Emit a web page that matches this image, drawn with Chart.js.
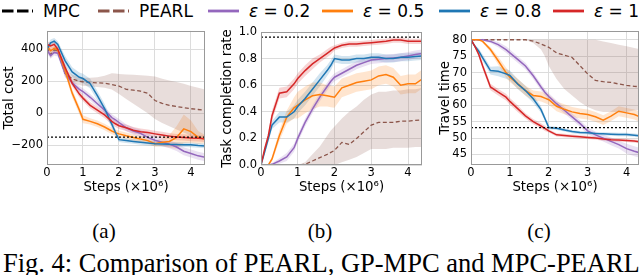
<!DOCTYPE html>
<html>
<head>
<meta charset="utf-8">
<script src="https://cdn.jsdelivr.net/npm/chart.js@4.4.1/dist/chart.umd.min.js"></script>
<style>
body { margin: 0; background: #fff; }
#page { position: relative; width: 640px; height: 275px; overflow: hidden; font-family: "DejaVu Sans", sans-serif; }
.panel { position: absolute; top: 20px; }
.key { position: absolute; top: 1px; height: 19px; display: flex; align-items: center; font-size: 17px; white-space: nowrap; color: #000; }
.key svg { margin-right: 10px; }
.sub { position: absolute; top: 221px; font: 21px/21px "Liberation Serif", serif; transform: translateX(-50%); }
.cap { position: absolute; left: 3px; top: 250px; font: 26.5px/26.5px "Liberation Serif", serif; white-space: nowrap; }
</style>
</head>
<body>
<div id="page">
  <div class="key" style="left:2px"><svg width="31" height="6"><line x1="0" y1="3" x2="31" y2="3" stroke="#000" stroke-width="2.8" stroke-dasharray="11.5,3.5"/></svg>MPC</div>
  <div class="key" style="left:98px"><svg width="31" height="6"><line x1="0" y1="3" x2="31" y2="3" stroke="#8c564b" stroke-width="2.8" stroke-dasharray="11.5,3.5"/></svg>PEARL</div>
  <div class="key" style="left:208px"><svg width="31" height="6"><line x1="0" y1="3" x2="31" y2="3" stroke="#9467bd" stroke-width="2.8"/></svg><i>ε</i>&nbsp;=&nbsp;0.2</div>
  <div class="key" style="left:322px"><svg width="31" height="6"><line x1="0" y1="3" x2="31" y2="3" stroke="#ff7f0e" stroke-width="2.8"/></svg><i>ε</i>&nbsp;=&nbsp;0.5</div>
  <div class="key" style="left:439px"><svg width="31" height="6"><line x1="0" y1="3" x2="31" y2="3" stroke="#1f77b4" stroke-width="2.8"/></svg><i>ε</i>&nbsp;=&nbsp;0.8</div>
  <div class="key" style="left:553px"><svg width="31" height="6"><line x1="0" y1="3" x2="31" y2="3" stroke="#d62728" stroke-width="2.8"/></svg><i>ε</i>&nbsp;=&nbsp;1</div>

  <canvas id="costChart" class="panel" style="left:0px" width="210" height="180"></canvas>
  <canvas id="rateChart" class="panel" style="left:213px" width="212" height="180"></canvas>
  <canvas id="timeChart" class="panel" style="left:428px" width="212" height="180"></canvas>

  <div class="sub" style="left:104px">(a)</div>
  <div class="sub" style="left:320px">(b)</div>
  <div class="sub" style="left:539px">(c)</div>
  <div class="cap">Fig. 4: Comparison of PEARL, GP-MPC and MPC-PEARL</div>
</div>

<script>
// x positions (millions of steps) shared by all curves
const steps = [0, 0.1, 0.2, 0.3, 0.5, 0.7, 0.9, 1.0, 1.2, 1.4, 1.6, 1.8, 1.9, 2.0, 2.2, 2.4, 2.6, 2.8, 3.0, 3.2, 3.4, 3.6, 3.8, 4.0, 4.2, 4.4];
const mpcSteps = [0, 4.4];
const stepTicks = [0, 1, 2, 3, 4];

// (a) total cost
const costMPC = [-148, -148];
const costPEARL = [410, 365, 395, 390, 250, 215, 200, 197, 193, 190, 188, 180, 175, 170, 150, 145, 138, 125, 80, 62, 50, 43, 35, 29, 24, 20];
const costPEARLHi = [425, 385, 415, 410, 275, 240, 225, 222, 222, 225, 235, 250, 248, 245, 242, 240, 238, 235, 230, 215, 205, 195, 185, 170, 160, 148];
const costPEARLLo = [395, 345, 375, 370, 225, 190, 175, 172, 168, 165, 160, 148, 135, 120, 90, 60, 30, 0, -35, -60, -80, -100, -120, -140, -150, -157];
const costE02 = [395, 360, 380, 375, 250, 190, 150, 136, 100, 60, 20, -26, -40, -57, -90, -110, -125, -150, -168, -180, -192, -210, -236, -250, -265, -274];
const costE05 = [420, 390, 405, 395, 268, 126, 20, -37, -50, -65, -85, -110, -120, -128, -140, -150, -160, -170, -189, -180, -175, -150, -97, -114, -150, -162];
const costE08 = [400, 440, 450, 430, 329, 258, 225, 217, 185, 110, 30, -67, -118, -164, -170, -175, -180, -185, -189, -191, -193, -194, -195, -196, -200, -203];
const costE1 = [430, 420, 430, 400, 288, 187, 120, 95, 50, 20, -10, -50, -65, -77, -90, -105, -114, -120, -128, -135, -142, -148, -150, -154, -156, -158];
const costSpreadE02 = [20, 20, 20, 20, 20, 20, 20, 20, 20, 20, 20, 20, 20, 22, 22, 22, 22, 25, 25, 25, 25, 25, 25, 25, 25, 25];
const costSpreadE05 = [20, 20, 20, 20, 25, 25, 25, 25, 20, 20, 20, 20, 20, 20, 20, 20, 20, 20, 20, 25, 40, 70, 90, 70, 40, 25];
const costSpreadE08 = [20, 20, 20, 20, 30, 30, 30, 30, 30, 30, 30, 25, 20, 15, 15, 15, 15, 15, 15, 15, 15, 15, 15, 15, 15, 15];
const costSpreadE1 = [20, 20, 20, 20, 20, 20, 20, 20, 20, 20, 20, 20, 20, 20, 20, 20, 20, 20, 20, 20, 20, 20, 20, 20, 20, 20];
const costTicks = [-200, 0, 200, 400];

// (b) task completion rate
const rateMPC = [0.962, 0.962];
const ratePEARL = [0, 0, 0, 0, 0, 0, 0, 0, 0.005, 0.03, 0.055, 0.08, 0.095, 0.11, 0.17, 0.155, 0.2, 0.25, 0.3, 0.32, 0.32, 0.32, 0.33, 0.33, 0.335, 0.34];
const ratePEARLHi = [0, 0, 0, 0, 0, 0, 0, 0, 0.02, 0.08, 0.14, 0.22, 0.26, 0.29, 0.35, 0.4, 0.44, 0.49, 0.53, 0.55, 0.55, 0.56, 0.56, 0.57, 0.57, 0.58];
const ratePEARLLo = [0, 0, 0, 0, 0, 0, 0, 0, 0, 0, 0, 0, 0, 0, 0.02, 0.04, 0.06, 0.09, 0.12, 0.12, 0.12, 0.13, 0.13, 0.13, 0.135, 0.136];
const rateE02 = [0, 0, 0, 0.005, 0.03, 0.06, 0.13, 0.2, 0.32, 0.42, 0.51, 0.59, 0.63, 0.66, 0.69, 0.72, 0.75, 0.77, 0.79, 0.795, 0.8, 0.805, 0.81, 0.82, 0.83, 0.84];
const rateE05 = [0, 0, 0, 0.045, 0.22, 0.36, 0.43, 0.45, 0.49, 0.52, 0.53, 0.52, 0.515, 0.51, 0.58, 0.6, 0.62, 0.63, 0.64, 0.67, 0.68, 0.66, 0.6, 0.61, 0.61, 0.65];
const rateE08 = [0, 0.1, 0.2, 0.3, 0.36, 0.36, 0.4, 0.44, 0.5, 0.57, 0.64, 0.71, 0.75, 0.8, 0.79, 0.79, 0.8, 0.8, 0.81, 0.81, 0.8, 0.8, 0.81, 0.81, 0.815, 0.82];
const rateE1 = [0, 0.12, 0.22, 0.37, 0.54, 0.55, 0.61, 0.65, 0.71, 0.76, 0.8, 0.84, 0.86, 0.88, 0.9, 0.91, 0.91, 0.915, 0.92, 0.925, 0.93, 0.94, 0.94, 0.93, 0.93, 0.93];
const rateSpreadE02 = [0, 0, 0, 0.01, 0.02, 0.03, 0.03, 0.03, 0.03, 0.03, 0.03, 0.03, 0.03, 0.03, 0.03, 0.03, 0.03, 0.03, 0.03, 0.03, 0.03, 0.03, 0.03, 0.03, 0.03, 0.03];
const rateSpreadE05 = [0, 0, 0, 0.02, 0.04, 0.05, 0.08, 0.1, 0.1, 0.1, 0.09, 0.08, 0.08, 0.08, 0.07, 0.07, 0.07, 0.07, 0.07, 0.07, 0.07, 0.07, 0.07, 0.07, 0.07, 0.07];
const rateSpreadE08 = [0, 0.02, 0.03, 0.03, 0.04, 0.04, 0.05, 0.05, 0.05, 0.05, 0.05, 0.04, 0.04, 0.03, 0.03, 0.03, 0.03, 0.03, 0.03, 0.03, 0.03, 0.03, 0.03, 0.03, 0.03, 0.03];
const rateSpreadE1 = [0, 0.02, 0.03, 0.04, 0.04, 0.04, 0.04, 0.04, 0.04, 0.04, 0.03, 0.03, 0.03, 0.02, 0.02, 0.02, 0.02, 0.02, 0.02, 0.02, 0.02, 0.02, 0.02, 0.02, 0.02, 0.02];
const rateTicks = [0, 0.2, 0.4, 0.6, 0.8, 1.0];

// (c) travel time
const timeMPC = [53.2, 53.2];
const timePEARL = [80, 80, 80, 80, 80, 80, 80, 80, 80, 80, 79.6, 78.7, 78.2, 77.7, 76, 75.3, 74.6, 72.1, 69.6, 67.6, 67.2, 67, 66.5, 66.1, 65.8, 65.6];
const timePEARLHi = [80, 80, 80, 80, 80, 80, 80, 80, 80, 80, 80, 80, 80, 80, 80, 80, 80, 80, 80, 80, 79.5, 79, 78.5, 78, 77.5, 77];
const timePEARLLo = [80, 80, 80, 80, 80, 80, 80, 80, 80, 80, 79, 77, 75, 72, 68, 65, 63, 61, 59.5, 58.5, 58, 58, 58, 58, 58.5, 58.5];
const timeE02 = [80, 80, 80, 80, 79.5, 78.5, 77, 76, 74, 72, 69, 65.6, 64, 62.7, 60.5, 58.5, 56.5, 54.5, 52.2, 51, 50, 49, 48, 46.8, 46, 45.3];
const timeE05 = [80, 80, 80, 79.5, 77, 73.6, 70, 68.6, 66.6, 64.5, 63, 62.7, 62.2, 61.7, 59.7, 58.8, 58, 57.5, 57.2, 56.5, 55.5, 56.7, 58.2, 57.7, 57.2, 56.2];
const timeE08 = [80, 78, 76.5, 74.5, 70.6, 70.4, 69.6, 69.1, 66.5, 64.5, 62, 58.7, 56, 53.2, 53, 52.5, 52, 51.7, 51.6, 51.4, 51.3, 51.2, 51.1, 51.1, 50.9, 50.6];
const timeE1 = [80, 78, 75.5, 72, 65.6, 64, 62.5, 61.2, 59, 56.8, 55, 53.7, 53, 52.2, 51, 50.8, 50.6, 50.4, 50.2, 50, 49.7, 49.5, 49.4, 49.3, 49.1, 48.8];
const timeSpreadE02 = [0, 0, 0, 0.3, 0.5, 0.8, 1, 1, 1, 1, 1, 1, 1, 1, 1, 1, 1, 1, 1, 1, 1, 1.2, 1.2, 1.5, 1.5, 1.5];
const timeSpreadE05 = [0, 0, 0, 0.3, 0.8, 1.2, 1.5, 1.5, 1.5, 1.5, 1.5, 1.5, 1.5, 1.5, 1.5, 1.5, 1.5, 1.5, 1.5, 1.5, 1.5, 1.5, 1.5, 1.5, 1.5, 1.5];
const timeSpreadE08 = [0, 0.5, 0.8, 1, 1.2, 1.5, 1.5, 1.5, 1.5, 1.5, 1.2, 1, 0.8, 0.5, 0.5, 0.5, 0.5, 0.5, 0.5, 0.5, 0.5, 0.5, 0.5, 0.5, 0.5, 0.5];
const timeSpreadE1 = [0, 0.5, 0.8, 1, 1, 1, 1, 1, 1, 0.8, 0.8, 0.8, 0.8, 0.5, 0.5, 0.5, 0.5, 0.5, 0.5, 0.5, 0.5, 0.5, 0.5, 0.5, 0.5, 0.5];
const timeTicks = [45, 50, 55, 60, 65, 70, 75, 80];

const colors = {
    mpc: '#000000',
    pearl: '#8c564b',
    e02: '#9467bd',
    e05: '#ff7f0e',
    e08: '#1f77b4',
    e1: '#d62728'
};

function pts(xs, ys) {
    return xs.map((x, i) => ({ x: x, y: ys[i] }));
}

function shift(ys, spread, sign) {
    return ys.map((y, i) => y + sign * spread[i]);
}

function hexA(hex, a) {
    const n = parseInt(hex.slice(1), 16);
    return `rgba(${(n >> 16) & 255}, ${(n >> 8) & 255}, ${n & 255}, ${a})`;
}

function line(data, color, dash, width) {
    return { data: data, borderColor: color, borderWidth: width || 1.5, borderDash: dash || [], pointRadius: 0, fill: false, tension: 0 };
}

// upper edge + lower edge filled back to the upper one
function band(hi, lo, color) {
    return [
        { data: pts(steps, hi), borderColor: 'transparent', borderWidth: 0, pointRadius: 0, fill: false },
        { data: pts(steps, lo), borderColor: 'transparent', borderWidth: 0, pointRadius: 0, fill: '-1', backgroundColor: hexA(color, 0.2) }
    ];
}

// draws the box round the plot area
const frame = {
    id: 'frame',
    afterDraw(chart) {
        const { ctx, chartArea: a } = chart;
        ctx.save();
        ctx.strokeStyle = '#999';
        ctx.lineWidth = 1;
        ctx.strokeRect(Math.round(a.left) + 0.5, Math.round(a.top) + 0.5, Math.round(a.width) - 1, Math.round(a.height) - 1);
        ctx.restore();
    }
};

function makePanel(id, p) {
    const datasets = [
        line(pts(mpcSteps, p.mpc), colors.mpc, [2, 2], 1.3),
        line(pts(steps, p.e1), colors.e1),
        line(pts(steps, p.e08), colors.e08),
        line(pts(steps, p.e05), colors.e05),
        line(pts(steps, p.e02), colors.e02),
        line(pts(steps, p.pearl), colors.pearl, [4, 2.5], 1.3)
    ].concat(
        band(p.pearlHi, p.pearlLo, colors.pearl),
        band(shift(p.e02, p.s02, 1), shift(p.e02, p.s02, -1), colors.e02),
        band(shift(p.e05, p.s05, 1), shift(p.e05, p.s05, -1), colors.e05),
        band(shift(p.e08, p.s08, 1), shift(p.e08, p.s08, -1), colors.e08),
        band(shift(p.e1, p.s1, 1), shift(p.e1, p.s1, -1), colors.e1)
    );

    return new Chart(document.getElementById(id).getContext('2d'), {
        type: 'line',
        data: { datasets: datasets },
        options: {
            responsive: false,
            animation: false,
            layout: { padding: { top: p.padTop, right: p.padRight, left: 0, bottom: 0 } },
            plugins: {
                legend: { display: false },
                tooltip: { enabled: false },
                filler: { drawTime: 'beforeDatasetsDraw' }
            },
            scales: {
                x: {
                    type: 'linear',
                    min: 0,
                    max: p.xMax,
                    afterBuildTicks: s => { s.ticks = stepTicks.map(v => ({ value: v })); },
                    afterFit: s => { s.height = 35; },
                    grid: { color: '#dcdcdc', drawTicks: false },
                    border: { display: false },
                    ticks: { padding: 1, color: '#000', font: { family: 'DejaVu Sans', size: 11.5 }, maxRotation: 0 },
                    title: { display: true, text: 'Steps (×10⁶)', color: '#000', font: { family: 'DejaVu Sans', size: 13.3 }, padding: { top: 0, bottom: 4 } }
                },
                y: {
                    min: p.yMin,
                    max: p.yMax,
                    afterBuildTicks: s => { s.ticks = p.ticks.map(v => ({ value: v })); },
                    afterFit: s => { s.width = p.yWidth; },
                    grid: { color: '#dcdcdc', drawTicks: false },
                    border: { display: false },
                    ticks: { padding: 4, color: '#000', font: { family: 'DejaVu Sans', size: 11.5 }, callback: p.fmt },
                    title: { display: true, text: p.title, color: '#000', font: { family: 'DejaVu Sans', size: 13.3 }, padding: { top: p.titlePad, bottom: 0 } }
                }
            }
        },
        plugins: [frame]
    });
}

window.onload = () => {
    makePanel('costChart', {
        mpc: costMPC, pearl: costPEARL, pearlHi: costPEARLHi, pearlLo: costPEARLLo,
        e02: costE02, e05: costE05, e08: costE08, e1: costE1,
        s02: costSpreadE02, s05: costSpreadE05, s08: costSpreadE08, s1: costSpreadE1,
        ticks: costTicks, yMin: -322, yMax: 514, xMax: 4.39,
        title: 'Total cost', fmt: v => String(v).replace('-', '−'),
        yWidth: 47, titlePad: 2, padTop: 8, padRight: 5
    });
    makePanel('rateChart', {
        mpc: rateMPC, pearl: ratePEARL, pearlHi: ratePEARLHi, pearlLo: ratePEARLLo,
        e02: rateE02, e05: rateE05, e08: rateE08, e1: rateE1,
        s02: rateSpreadE02, s05: rateSpreadE05, s08: rateSpreadE08, s1: rateSpreadE1,
        ticks: rateTicks, yMin: 0, yMax: 1.0, xMax: 4.38,
        title: 'Task completion rate', fmt: v => v.toFixed(1),
        yWidth: 48, titlePad: 7, padTop: 12, padRight: 3
    });
    makePanel('timeChart', {
        mpc: timeMPC, pearl: timePEARL, pearlHi: timePEARLHi, pearlLo: timePEARLLo,
        e02: timeE02, e05: timeE05, e08: timeE08, e1: timeE1,
        s02: timeSpreadE02, s05: timeSpreadE05, s08: timeSpreadE08, s1: timeSpreadE1,
        ticks: timeTicks, yMin: 41.8, yMax: 82.7, xMax: 4.32,
        title: 'Travel time', fmt: v => v,
        yWidth: 43, titlePad: 10, padTop: 8, padRight: 1
    });
};
</script>
</body>
</html>
